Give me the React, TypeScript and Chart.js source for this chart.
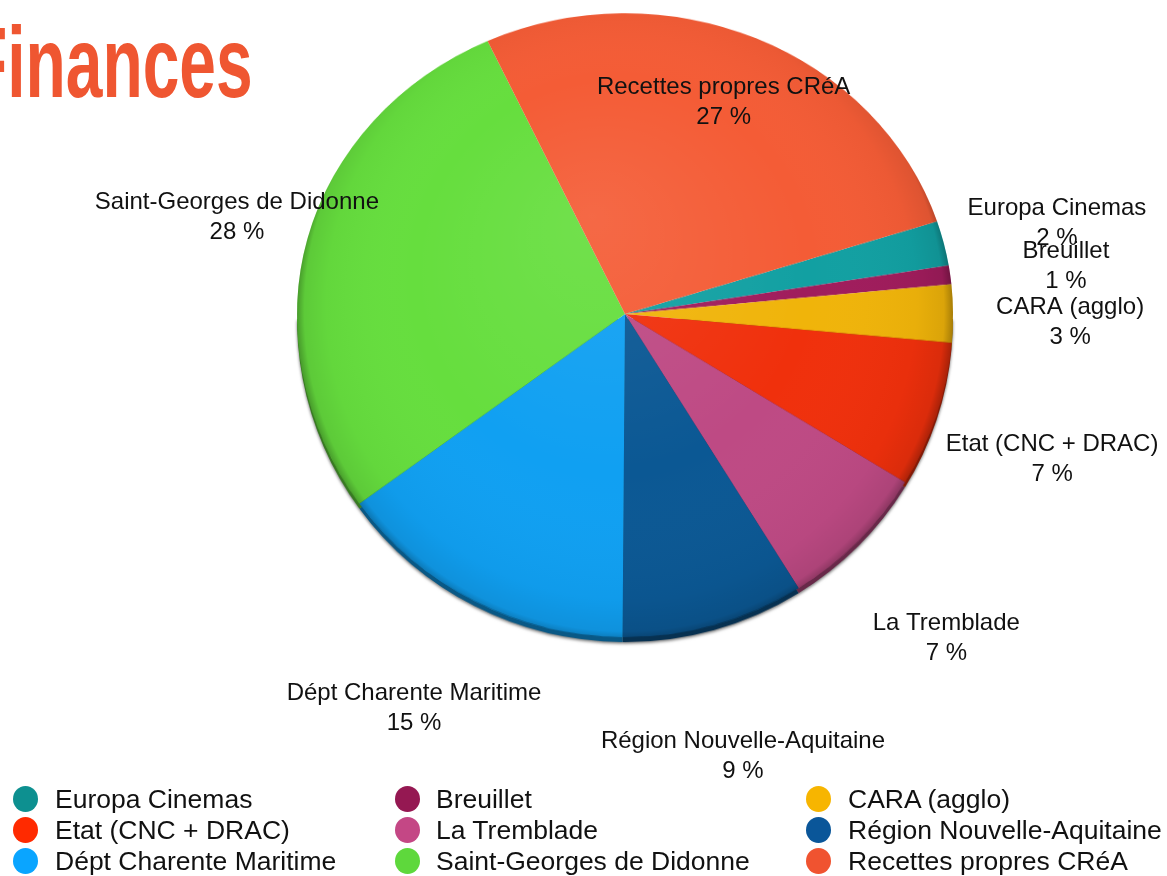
import React, { useEffect, useRef } from 'react';
import { Chart, registerables } from 'chart.js';

Chart.register(...registerables);

const categories = [
  'Europa Cinemas',
  'Breuillet',
  'CARA (agglo)',
  'Etat (CNC + DRAC)',
  'La Tremblade',
  'Région Nouvelle-Aquitaine',
  'Dépt Charente Maritime',
  'Saint-Georges de Didonne',
  'Recettes propres CRéA',
];
const shares = [2.4, 1.0, 3.0, 7.3, 7.4, 9.0, 14.9, 28.1, 26.9];
const sliceColors = ['#12A0A2', '#A01C5C', '#F0B40A', '#F0300C', '#BE4A84', '#0B5894', '#10A0F2', '#66DE3E', '#F45C36'];
const legendColors = ['#0D9090', '#951852', '#F7B500', '#FF2A00', '#C44785', '#0A5699', '#0AA5FF', '#5ED83C', '#F05330'];
const labelRadius = [1.355, 1.356, 1.357, 1.371, 1.387, 1.402, 1.378, 1.223, 0.765];
const labelNudgeX = [0, 0, 0, 0, -2, -7, -4, 0, -2];
const labelNudgeY = [5, 6, 10, 7, 9, 6, -1, -4, -1];
const titleText = 'Finances';

const W = 1167;
const H = 896;
const CX = 625;
const CY = 334;
const R = 328;
// perspective squash of the far (top) and near (bottom) halves
const ST = 0.917;
const SB = 0.985;
const SIDE = 5;

const LABEL_FONT = '24px "Liberation Sans", Arial, Helvetica, sans-serif';

function facePath(ctx: CanvasRenderingContext2D, x: number, y: number, r: number, dy = 0) {
  ctx.beginPath();
  ctx.ellipse(x, y + dy, r, r * ST, 0, Math.PI, Math.PI * 2);
  ctx.ellipse(x, y + dy, r, r * SB, 0, 0, Math.PI);
  ctx.closePath();
}

const decorPlugin = {
  id: 'pieDecor',
  afterDatasetsDraw(chart: any) {
    const meta = chart.getDatasetMeta(0);
    const ctx: CanvasRenderingContext2D = chart.ctx;
    const first = meta.data[0];
    if (!first) return;
    const { x, y, outerRadius: r } = first.getProps(['x', 'y', 'outerRadius'], true);
    const canvas: HTMLCanvasElement = chart.canvas;

    // copy what the library drew, then re-project it with a perspective squash
    const tmp = document.createElement('canvas');
    tmp.width = canvas.width;
    tmp.height = canvas.height;
    (tmp.getContext('2d') as CanvasRenderingContext2D).drawImage(canvas, 0, 0);

    ctx.save();
    ctx.setTransform(1, 0, 0, 1, 0, 0);
    ctx.clearRect(x - r - 4, y - r - 4, 2 * r + 8, 2 * r + 8 + SIDE);

    const L = x - r - 1;
    const Wd = 2 * r + 2;
    // side (thickness) of the pie
    ctx.save();
    ctx.shadowColor = 'rgba(0,0,0,0.55)';
    ctx.shadowBlur = 3;
    ctx.shadowOffsetY = 1.5;
    ctx.drawImage(tmp, L, y, Wd, r + 1, L, y + SIDE, Wd, (r + 1) * SB);
    ctx.restore();
    ctx.save();
    ctx.globalCompositeOperation = 'source-atop';
    ctx.fillStyle = 'rgba(0,0,0,0.45)';
    ctx.fillRect(L, y, Wd, r + SIDE + 10);
    ctx.restore();

    // top face
    ctx.drawImage(tmp, L, y - r - 1, Wd, r + 1.5, L, y - (r + 1) * ST, Wd, (r + 1.5) * ST);
    ctx.drawImage(tmp, L, y, Wd, r + 1, L, y, Wd, (r + 1) * SB);

    // lighting overlay
    ctx.save();
    facePath(ctx, x, y, r);
    ctx.clip();
    const g = ctx.createRadialGradient(x - r * 0.1, y - r * 0.3, 0, x, y, r);
    g.addColorStop(0, 'rgba(255,255,255,0.08)');
    g.addColorStop(0.6, 'rgba(255,255,255,0.0)');
    g.addColorStop(0.9, 'rgba(0,0,0,0.03)');
    g.addColorStop(0.975, 'rgba(0,0,0,0.09)');
    g.addColorStop(1, 'rgba(0,0,0,0.3)');
    ctx.fillStyle = g;
    ctx.fillRect(x - r, y - r, r * 2, r * 2);
    ctx.restore();
    ctx.restore();

    // labels
    const data = chart.data.datasets[0].data as number[];
    const total = data.reduce((a, b) => a + b, 0);
    ctx.save();
    ctx.font = LABEL_FONT;
    ctx.fillStyle = '#111';
    ctx.textAlign = 'center';
    ctx.textBaseline = 'middle';
    meta.data.forEach((el: any, i: number) => {
      const p = el.getProps(['x', 'y', 'startAngle', 'endAngle', 'outerRadius'], true);
      const mid = (p.startAngle + p.endAngle) / 2;
      const rr = p.outerRadius * labelRadius[i];
      const s = Math.sin(mid);
      const lx = p.x + Math.cos(mid) * rr + labelNudgeX[i];
      const ly = p.y + s * rr * (s < 0 ? ST : SB) + labelNudgeY[i];
      const pct = Math.round((data[i] / total) * 100);
      ctx.fillText(chart.data.labels[i], lx, ly - 15);
      ctx.fillText(pct + ' %', lx, ly + 15);
    });
    ctx.restore();

    // title
    ctx.save();
    ctx.translate(-33, 97 + (H - 876));
    ctx.scale(0.659, 1);
    ctx.font = 'bold 100px "Liberation Sans", Arial, sans-serif';
    ctx.fillStyle = '#EF5631';
    ctx.textAlign = 'left';
    ctx.textBaseline = 'alphabetic';
    ctx.fillText(titleText, 0, 0);
    ctx.restore();
  },
};

const legendColX = [25, 407, 818];
const legendTextX = [55, 436, 848];
const legendRowY = [799, 830, 861];

export default function App() {
  const ref = useRef<HTMLCanvasElement | null>(null);
  useEffect(() => {
    if (!ref.current) return;
    const chart = new Chart(ref.current, {
      type: 'pie',
      data: {
        labels: categories,
        datasets: [
          {
            data: shares,
            backgroundColor: sliceColors,
            borderWidth: 0,
            hoverOffset: 0,
          },
        ],
      },
      options: {
        responsive: false,
        animation: false,
        devicePixelRatio: 1,
        events: [],
        rotation: 72.07,
        radius: R,
        layout: {
          padding: {
            left: CX - R,
            right: W - CX - R,
            top: CY - R,
            bottom: H - CY - R,
          },
        },
        plugins: {
          legend: { display: false },
          tooltip: { enabled: false },
          title: { display: false },
        },
      },
      plugins: [decorPlugin],
    });
    return () => chart.destroy();
  }, []);

  return (
    <div
      style={{
        position: 'fixed',
        left: 0,
        top: 0,
        width: W,
        height: 876,
        overflow: 'hidden',
        background: '#fff',
      }}
    >
      <canvas
        ref={ref}
        width={W}
        height={H}
        style={{ position: 'absolute', left: 0, top: -(H - 876), width: W, height: H }}
      />
      {categories.map((c, i) => {
        const col = i % 3;
        const row = Math.floor(i / 3);
        const cy = legendRowY[row];
        return (
          <React.Fragment key={c}>
            <div
              style={{
                position: 'absolute',
                left: legendColX[col] - 12.5,
                top: cy - 13,
                width: 25,
                height: 26,
                borderRadius: '50%',
                background: legendColors[i],
              }}
            />
            <div
              style={{
                position: 'absolute',
                left: legendTextX[col],
                top: cy - 16,
                height: 32,
                lineHeight: '32px',
                fontSize: 26.5,
                fontFamily: '"Liberation Sans", Arial, Helvetica, sans-serif',
                color: '#111',
                whiteSpace: 'nowrap',
              }}
            >
              {c}
            </div>
          </React.Fragment>
        );
      })}
    </div>
  );
}
